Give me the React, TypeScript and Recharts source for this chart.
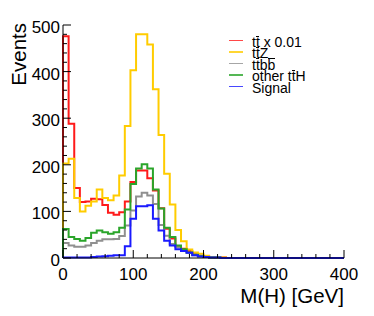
import React from 'react';
import { LineChart, Line, XAxis, YAxis, Legend } from 'recharts';

// ---- data (bins of 8 GeV, 0–400 GeV) ----
const BIN_WIDTH = 8;
const ttbarScaled = [476, 288, 150, 120, 121, 127, 126, 114, 97, 93, 98, 121, 163, 188, 188, 171, 145, 107, 63, 42, 26, 20, 15, 8, 5, 3, 2, 1, 1, 0, 0, 0, 0, 0, 0, 0, 0, 0, 0, 0, 0, 0, 0, 0, 0, 0, 0, 0, 0, 0];
const ttZ = [203, 213, 129, 100, 112, 121, 147, 129, 124, 134, 177, 283, 403, 480, 480, 458, 362, 264, 181, 115, 60, 36, 18, 12, 9, 5, 2, 1, 1, 0, 0, 0, 0, 0, 0, 0, 0, 0, 0, 0, 0, 0, 0, 0, 0, 0, 0, 0, 0, 0];
const ttbb = [32, 27, 24, 24, 27, 32, 37, 40, 40, 41, 47, 70, 102, 132, 140, 134, 116, 71, 48, 30, 23, 17, 11, 6, 5, 2, 1, 1, 0, 0, 0, 0, 0, 0, 0, 0, 0, 0, 0, 0, 0, 0, 0, 0, 0, 0, 0, 0, 0, 0];
const otherTtH = [62, 45, 41, 37, 43, 54, 59, 55, 52, 55, 65, 104, 159, 192, 201, 192, 147, 106, 65, 45, 27, 19, 12, 7, 4, 2, 1, 1, 0, 0, 0, 0, 0, 0, 0, 0, 0, 0, 0, 0, 0, 0, 0, 0, 0, 0, 0, 0, 0, 0];
const signal = [1, 1, 1, 1, 1, 2, 3, 4, 5, 6, 6, 25, 84, 111, 111, 113, 84, 59, 37, 27, 19, 15, 11, 6, 3, 2, 1, 1, 0, 0, 0, 0, 0, 0, 0, 0, 0, 0, 0, 0, 0, 0, 0, 0, 0, 0, 0, 0, 0, 0];

const seriesKeys = ['ttbar', 'ttZ', 'ttbb', 'ttH', 'signal'];
const seriesValues = [ttbarScaled, ttZ, ttbb, otherTtH, signal];
const seriesNames = ['tt\u0305 x 0.01', 'tt\u0305Z', 'tt\u0305bb\u0305', 'other tt\u0305H', 'Signal'];
const seriesColors = ['#ff1a1a', '#ffcc00', '#909090', '#2aa52a', '#1a1aff'];

const xTicks = [0, 20, 40, 60, 80, 100, 120, 140, 160, 180, 200, 220, 240, 260, 280, 300, 320, 340, 360, 380, 400];
const yTicks = [0, 20, 40, 60, 80, 100, 120, 140, 160, 180, 200, 220, 240, 260, 280, 300, 320, 340, 360, 380, 400, 420, 440, 460, 480, 500];
const xMajor = [0, 100, 200, 300, 400];
const yMajor = [0, 100, 200, 300, 400, 500];
const xTitle = 'M(H) [GeV]';
const yTitle = 'Events';

// ---- build histogram outline table ----
const nBins = ttbarScaled.length;
const rowAt = (x: number, pick: (vals: number[]) => number) => {
  const r: any = { x };
  seriesKeys.forEach((k, i) => { r[k] = pick(seriesValues[i]); });
  return r;
};
const rows: any[] = [];
rows.push(rowAt(0, () => 0));
for (let b = 0; b < nBins; b++) rows.push(rowAt(b * BIN_WIDTH, (v) => v[b]));
rows.push(rowAt(nBins * BIN_WIDTH, (v) => v[nBins - 1]));
rows.push(rowAt(nBins * BIN_WIDTH, () => 0));

const FONT = '"Liberation Sans", Arial, Helvetica, sans-serif';
const MAJOR = 8;
const MINOR = 4;

const BottomTick = (p: any) => {
  const v = p.payload.value;
  const major = xMajor.includes(v);
  return (
    <g>
      <line x1={p.x} x2={p.x} y1={p.y} y2={p.y - (major ? MAJOR : MINOR)} stroke="#000" />
      {major && (
        <text x={p.x} y={p.y + 22} textAnchor="middle" fontSize={17} fontFamily={FONT} fill="#000">{v}</text>
      )}
    </g>
  );
};
const TopTick = (p: any) => {
  const major = xMajor.includes(p.payload.value);
  return <line x1={p.x} x2={p.x} y1={p.y} y2={p.y + (major ? MAJOR : MINOR)} stroke="#000" />;
};
const LeftTick = (p: any) => {
  const v = p.payload.value;
  const major = yMajor.includes(v);
  return (
    <g>
      <line x1={p.x} x2={p.x + (major ? MAJOR : MINOR)} y1={p.y} y2={p.y} stroke="#000" />
      {major && (
        <text x={p.x - 3} y={p.y + 8} textAnchor="end" fontSize={17} fontFamily={FONT} fill="#000">{v}</text>
      )}
    </g>
  );
};
const RightTick = (p: any) => {
  const major = yMajor.includes(p.payload.value);
  return <line x1={p.x} x2={p.x - (major ? MAJOR : MINOR)} y1={p.y} y2={p.y} stroke="#000" />;
};

// split a name into plain runs and overlined characters (marked by U+0305)
const renderName = (s: string) => {
  const parts: any[] = [];
  let run = '';
  let key = 0;
  for (let i = 0; i < s.length; i++) {
    const ch = s[i];
    if (s[i + 1] === '\u0305') {
      if (run) { parts.push(<span key={key++}>{run}</span>); run = ''; }
      parts.push(
        <span key={key++} style={{ position: 'relative', display: 'inline-block', lineHeight: '11.4px' }}>
          {ch}
          <span style={{ position: 'absolute', left: 0.5, right: 0.5, top: -1.5, height: 1, background: '#000' }} />
        </span>
      );
      i++;
    } else {
      run += ch;
    }
  }
  if (run) parts.push(<span key={key++}>{run}</span>);
  return parts;
};

const LegendBox = () => (
  <div style={{ fontFamily: FONT, fontSize: 14, color: '#000' }}>
    {seriesNames.map((n, i) => (
      <div key={n} style={{ display: 'flex', alignItems: 'center', height: 11.4, whiteSpace: 'pre' }}>
        <div style={{ width: 14, height: 1.5, background: seriesColors[i], opacity: 0.8, transform: 'translateY(-2px)', marginRight: 9 }} />
        <span style={{ lineHeight: '11.4px' }}>{renderName(n)}</span>
      </div>
    ))}
  </div>
);

export default function App() {
  return (
    <div style={{ position: 'absolute', left: 0, top: 0, width: 374, height: 316, background: '#fff' }}>
      <LineChart width={374} height={316} data={rows} margin={{ top: 25, right: 30, bottom: 0, left: 0 }}>
        <XAxis
          xAxisId="b" dataKey="x" type="number" domain={[0, 400]} ticks={xTicks} interval={0}
          tickSize={0} tickMargin={0} tickLine={false} height={58} tick={<BottomTick />}
          axisLine={{ stroke: '#000' }}
          label={(props: any) => {
            const vb = props.viewBox || { x: 63, y: 258, width: 281 };
            return (
              <text x={vb.x + vb.width} y={vb.y + 45} textAnchor="end" fontSize={20.5} fontFamily={FONT} fill="#000">{xTitle}</text>
            );
          }}
        />
        <XAxis
          xAxisId="t" orientation="top" dataKey="x" type="number" domain={[0, 400]} ticks={xTicks} interval={0}
          tickSize={0} tickMargin={0} tickLine={false} height={0} tick={<TopTick />} axisLine={{ stroke: '#000' }}
        />
        <YAxis
          yAxisId="l" type="number" domain={[0, 500]} ticks={yTicks} interval={0}
          tickSize={0} tickMargin={0} tickLine={false} width={63} tick={<LeftTick />}
          axisLine={{ stroke: '#000' }}
          label={(props: any) => {
            const vb = props.viewBox || { x: 0, y: 25 };
            return (
              <text transform={`translate(${vb.x + 26},${vb.y - 2}) rotate(-90)`} textAnchor="end" fontSize={20.5} fontFamily={FONT} fill="#000">{yTitle}</text>
            );
          }}
        />
        <YAxis
          yAxisId="r" orientation="right" type="number" domain={[0, 500]} ticks={yTicks} interval={0}
          tickSize={0} tickMargin={0} tickLine={false} width={0} tick={<RightTick />} axisLine={{ stroke: '#000' }}
        />
        {seriesKeys.map((k, i) => (
          <Line
            key={k} xAxisId="b" yAxisId="l" type="stepAfter" dataKey={k} stroke={seriesColors[i]}
            strokeWidth={2} dot={false} activeDot={false} isAnimationActive={false}
          />
        ))}
        <Legend
          layout="vertical" align="center" verticalAlign="middle"
          wrapperStyle={{ left: 229, top: 37, width: 140 }}
          content={() => <LegendBox />}
        />
      </LineChart>
    </div>
  );
}
